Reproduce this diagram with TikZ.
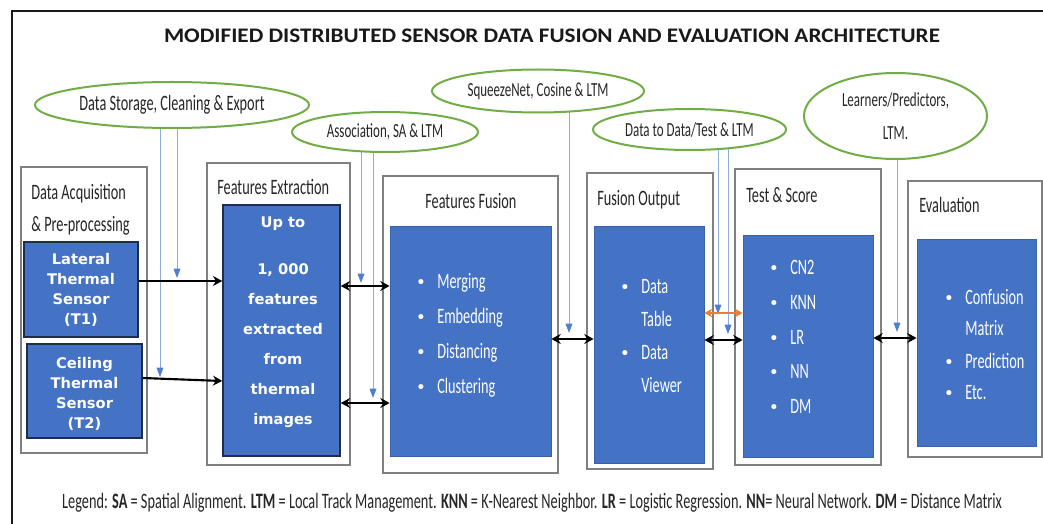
\documentclass[tikz,border=0pt]{standalone}
\usepackage{fontspec}
\setmainfont{Carlito}
\newfontfamily\calf{Carlito}[FakeStretch=0.65]
\newfontfamily\ttlf{Carlito}[FakeStretch=1.12]
\newfontfamily\verd{DejaVu Sans}
\usetikzlibrary{arrows.meta,shapes.geometric,fit,calc}
\pgfdeclarelayer{bg}
\pgfsetlayers{bg,main}

\definecolor{officeblue}{HTML}{4472C4}
\definecolor{ovalgreen}{HTML}{70AD47}
\definecolor{feedblue}{HTML}{8FAADC}
\definecolor{feedhead}{HTML}{4F7FD0}
\definecolor{linkorange}{HTML}{ED7D31}
\definecolor{framegray}{HTML}{808080}
\definecolor{navyedge}{HTML}{1F2D4A}
\definecolor{inkgray}{HTML}{262626}

% multi-line text whose baseline is the first row
\newcommand\txtrows[2]{\begin{tabular}[t]{@{}#1@{}}#2\end{tabular}}
% list bullet followed by a fixed indent
\newcommand\bul{\makebox[16pt][l]{\verd\fontsize{13}{13}\selectfont\textbullet}}
\newcommand\indentbul{\hspace*{16pt}}

\begin{document}
\begin{tikzpicture}[x=0.75pt,y=-0.75pt,
  panel/.style={draw=framegray, line width=0.9pt, fill=white, inner sep=0pt},
  sensor/.style={draw=navyedge, line width=1.1pt, fill=officeblue, inner sep=0pt},
  core/.style={draw=officeblue!85!black, line width=0.6pt, fill=officeblue, inner sep=0pt},
  oval/.style={ellipse, draw=ovalgreen, line width=1.5pt, fill=white, inner sep=0pt,
    font=\calf\fontsize{15}{24.75}\selectfont, text=inkgray},
  heading/.style={anchor=base west, font=\calf\fontsize{16.5}{24}\selectfont, text=inkgray, inner sep=0pt},
  sensortext/.style={anchor=base, font=\verd\bfseries\fontsize{11}{15}\selectfont, text=white, inner sep=0pt},
  listtext/.style={anchor=base west, text=white, inner sep=0pt},
  link/.style={{Stealth[length=7pt,width=7.5pt]}-{Stealth[length=7pt,width=7.5pt]}, line width=1.6pt, black},
  onelink/.style={-{Stealth[length=7pt,width=7.5pt]}, line width=1.6pt, black},
  orangelink/.style={{Stealth[length=6pt,width=6.5pt]}-{Stealth[length=6pt,width=6.5pt]}, line width=1.4pt, linkorange},
  feed/.style={-{Triangle[length=7pt,width=5pt,color=feedhead]}, feedblue, line width=0.75pt}
]
\useasboundingbox (0,0) rectangle (1043,524);
\begin{pgfonlayer}{bg}
  \fill[white] (0,0) rectangle (1043,524);
\end{pgfonlayer}

% outer frame, open to the right and bottom
\begin{scope}
  \clip (0,0) rectangle (1043,524);
  \draw[line width=2pt, black!90] (12,540) -- (12,11) -- (1060,11);
\end{scope}

% title
\node[anchor=base, font=\ttlf\bfseries\fontsize{15.5}{18}\selectfont, text=black!90, inner sep=0pt]
  (title) at (552,43) {MODIFIED DISTRIBUTED SENSOR DATA FUSION AND EVALUATION ARCHITECTURE};

% supporting processes
\node[oval, minimum width=205.5pt, minimum height=34.5pt, font=\calf\fontsize{16.5}{20}\selectfont]
  (store) at (172,105) {Data Storage, Cleaning \& Export};
\node[oval, minimum width=139.5pt, minimum height=30pt] (assoc) at (385,132) {Association, SA \& LTM};
\node[oval, minimum width=159pt, minimum height=32.25pt] (squeeze) at (538,91) {SqueezeNet, Cosine \& LTM};
\node[oval, minimum width=144.75pt, minimum height=30.75pt] (dtd) at (689.5,129.5) {Data to Data/Test \& LTM};
\node[oval, minimum width=137.25pt, minimum height=64.5pt, align=center] (learn) at (895.5,116)
  {Learners/Predictors,\\LTM.};

% stage panels and their blue cores
\node[panel, fit={(21,167)(147,453)}] (acq) {};
\node[sensor, fit={(24,242)(138,337)}] (t1) {};
\node[sensor, fit={(27,344)(142,438)}] (t2) {};
\node[panel, fit={(207,163)(350,465)}] (extr) {};
\node[sensor, fit={(223,205)(340,456)}] (ex) {};
\node[panel, fit={(383,176)(558,473)}] (fusion) {};
\node[core, fit={(390,226)(551,456)}] (fu) {};
\node[panel, fit={(587,173)(713,469)}] (output) {};
\node[core, fit={(594,226)(704,463)}] (fo) {};
\node[panel, fit={(735,169)(881,465)}] (test) {};
\node[core, fit={(743,235)(873,457)}] (ts) {};
\node[panel, fit={(908,181)(1042,457)}] (eval) {};
\node[core, fit={(917,239)(1036,446)}] (ev) {};

% panel headings
\node[heading] (acqhead) at (31,200) {\txtrows{l}{Data Acquisition\\\& Pre-processing}};
\node[heading] (extrhead) at (217,195) {Features Extraction};
\node[heading] (fusionhead) at (425,209) {Features Fusion};
\node[heading] (outputhead) at (597,206) {Fusion Output};
\node[heading] (testhead) at (746,203) {Test \& Score};
\node[heading] (evalhead) at (919,213) {Evaluation};

% texts in the blue cores
\node[sensortext] (t1text) at (81,265) {\txtrows{c}{Lateral\\Thermal\\Sensor\\(T1)}};
\node[sensortext] (t2text) at (84.5,368) {\txtrows{c}{Ceiling\\Thermal\\Sensor\\(T2)}};
\node[sensortext, font=\verd\bfseries\fontsize{11}{22.5}\selectfont] (extext) at (283,228)
  {\txtrows{c}{Up to\\[12.75pt]1, 000\\features\\extracted\\from\\thermal\\images}};
\node[listtext, font=\calf\fontsize{16.5}{26.25}\selectfont] (fulist) at (415.7,288)
  {\txtrows{l}{\bul Merging\\\bul Embedding\\\bul Distancing\\\bul Clustering}};
\node[listtext, font=\calf\fontsize{16.5}{24.75}\selectfont] (folist) at (619.7,293)
  {\txtrows{l}{\bul Data\\\indentbul Table\\\bul Data\\\indentbul Viewer}};
\node[listtext, font=\calf\fontsize{16.5}{25.9}\selectfont] (tslist) at (768.7,275)
  {\txtrows{l}{\bul CN2\\\bul KNN\\\bul LR\\\bul NN\\\bul DM}};
\node[listtext, font=\calf\fontsize{16.5}{24}\selectfont] (evlist) at (943.7,304)
  {\txtrows{l}{\bul Confusion\\\indentbul Matrix\\\bul Prediction\\\bul Etc.}};

% data flow between stages
\draw[onelink] ($(t1.east)+(0,-8.5)$) -- ($(ex.west)+(0,-49.5)$);
\draw[onelink] ($(t2.east)+(0,-13)$) -- ($(ex.west)+(0,-50.5)+(0,101)$);
\draw[link] ($(ex.east)+(0,-44.5)$) -- ($(fu.west)+(0,-55)$);
\draw[link] ($(ex.east)+(0,72.5)$) -- ($(fu.west)+(0,62)$);
\draw[link] ($(fu.east)+(0,-2)$) -- ($(fo.west)+(0,-5.5)$);
\draw[orangelink] ($(fo.east)+(0,-31.5)$) -- ($(ts.west)+(0,-33)$);
\draw[link] ($(fo.east)+(0,-4.5)$) -- ($(ts.west)+(0,-6)$);
\draw[link] ($(ts.east)+(0,-8)$) -- ($(ev.west)+(0,-4.5)$);

% feeds from the supporting processes
\begin{pgfonlayer}{bg}
  \coordinate (s1) at (177,278);
  \coordinate (s2) at (160,377);
  \coordinate (a1) at (361,283);
  \coordinate (a2) at (373,398);
  \coordinate (q1) at (569,333);
  \coordinate (d1) at (718,314);
  \coordinate (d2) at (728,334);
  \coordinate (l1) at (897,332);
  \draw[feed] (store.center -| s1) -- (s1);
  \draw[feed] (store.center -| s2) -- (s2);
  \draw[feed] (assoc.center -| a1) -- (a1);
  \draw[feed] (assoc.center -| a2) -- (a2);
  \draw[feed] (squeeze.center -| q1) -- (q1);
  \draw[feed] (dtd.center -| d1) -- (d1);
  \draw[feed] (dtd.center -| d2) -- (d2);
  \draw[feed] (learn.center -| l1) -- (l1);
\end{pgfonlayer}

% legend
\node[anchor=base, font=\calf\fontsize{16.5}{20}\selectfont, text=inkgray, inner sep=0pt] (legend) at (532,508)
  {Legend: \textbf{SA} = Spatial Alignment. \textbf{LTM} = Local Track Management. \textbf{KNN} = K-Nearest Neighbor. \textbf{LR} = Logistic Regression. \textbf{NN}= Neural Network. \textbf{DM} = Distance Matrix};
\end{tikzpicture}
\end{document}
